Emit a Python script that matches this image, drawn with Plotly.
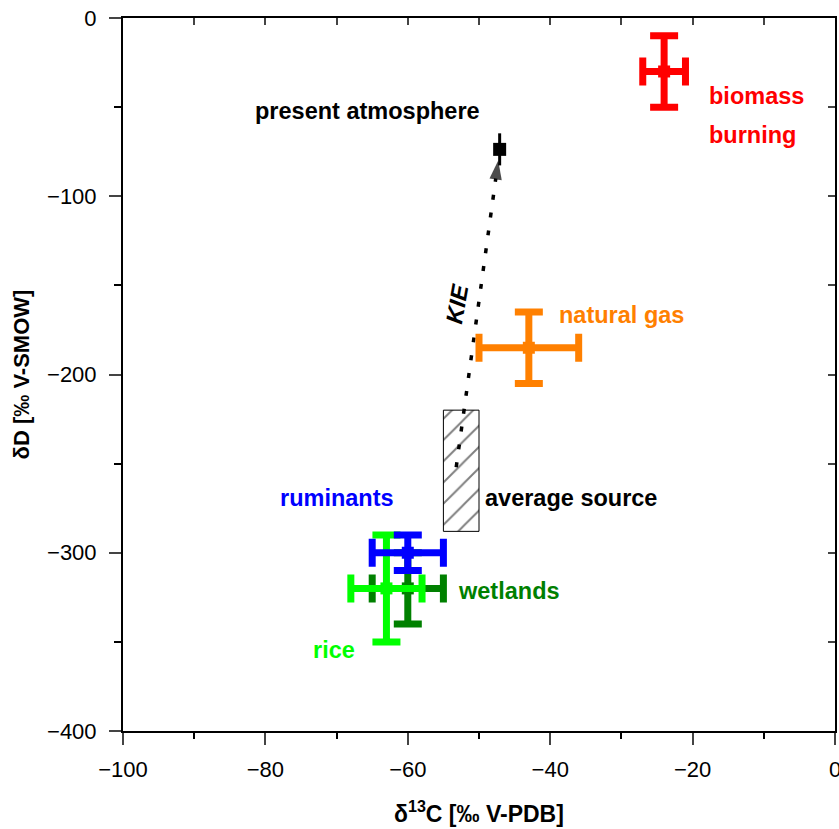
import plotly.graph_objects as go

# ---- data ----
sources = ["natural gas", "biomass burning", "wetlands", "rice", "ruminants"]
d13c = [-43, -24, -60, -63, -60]
dD = [-185, -30, -320, -320, -300]
err_c = [7, 3, 5, 5, 5]
err_d = [20, 20, 20, 30, 10]
colors = ["#FF8000", "#FF0000", "#008000", "#00FF00", "#0000FF"]

atm_c, atm_d, atm_err = -47.1, -73.7, 9
avg_c = [-55, -50]
avg_d = [-220, -288]
kie_c = [-53.2, -47.3]
kie_d = [-252, -80]

labels = ["present atmosphere", "biomass", "burning", "natural gas", "average source",
          "ruminants", "wetlands", "rice"]
lab_x = [-81.7, -18.0, -18.0, -39.1, -49.5, -78.3, -53.2, -73.6]
lab_y = [-52.4, -44.0, -65.5, -166.5, -269.4, -269.4, -321.3, -354.5]
lab_col = ["black", "#FF0000", "#FF0000", "#FF8000", "black", "#0000FF", "#008000", "#00FF00"]

FONT = "Liberation Sans, Arial, sans-serif"
fig = go.Figure()

# hatched average source box
fig.add_trace(go.Scatter(
    x=[avg_c[0], avg_c[1], avg_c[1], avg_c[0], avg_c[0]],
    y=[avg_d[0], avg_d[0], avg_d[1], avg_d[1], avg_d[0]],
    mode="lines", fill="toself", fillcolor="white",
    fillpattern=dict(shape="/", fgcolor="black", bgcolor="white", size=15, solidity=0.13),
    line=dict(color="black", width=1), showlegend=False, hoverinfo="skip"))

# KIE dotted arrow
fig.add_trace(go.Scatter(
    x=kie_c, y=kie_d, mode="lines+markers",
    line=dict(color="black", width=3.5, dash="5px,13px"),
    marker=dict(symbol=["circle", "arrow"], size=[0, 20], color="black",
                angleref="previous", line=dict(width=0)),
    showlegend=False, hoverinfo="skip"))

# sources with error bars
for i in range(len(sources)):
    fig.add_trace(go.Scatter(
        x=[d13c[i]], y=[dD[i]], mode="markers",
        marker=dict(symbol="square", size=12, color=colors[i]),
        error_x=dict(type="constant", value=err_c[i], thickness=7, width=14, color=colors[i]),
        error_y=dict(type="constant", value=err_d[i], thickness=7, width=14, color=colors[i]),
        showlegend=False, name=sources[i]))

# present atmosphere
fig.add_trace(go.Scatter(
    x=[atm_c], y=[atm_d], mode="markers",
    marker=dict(symbol="square", size=13, color="black"),
    error_y=dict(type="constant", value=atm_err, thickness=3, width=0, color="black"),
    showlegend=False))

# invisible trace for the overlay (top/right) axes
fig.add_trace(go.Scatter(x=[-50], y=[-200], xaxis="x2", yaxis="y2", mode="markers",
                         marker=dict(size=1, opacity=0), showlegend=False, hoverinfo="skip"))

for t, x, y, c in zip(labels, lab_x, lab_y, lab_col):
    fig.add_annotation(x=x, y=y, text="<b>%s</b>" % t, showarrow=False, xanchor="left",
                       yanchor="middle", font=dict(family=FONT, size=23.5, color=c))

fig.add_annotation(x=-53.0, y=-160, text="<b><i>KIE</i></b>", showarrow=False, textangle=-80,
                   font=dict(family=FONT, size=23.5, color="black"))

# axis titles
fig.add_annotation(xref="paper", yref="paper", x=0.5, y=-0.1136, text="<b>δ<sup>13</sup>C [‰ V-PDB]</b>",
                   showarrow=False, xanchor="center", yanchor="middle",
                   font=dict(family=FONT, size=23, color="black"))
fig.add_annotation(xref="paper", yref="paper", x=-0.142, y=0.5, text="<b>δD [‰ V-SMOW]</b>",
                   showarrow=False, textangle=-90, xanchor="center", yanchor="middle",
                   font=dict(family=FONT, size=22, color="black"))

fig.update_layout(
    width=839, height=829,
    margin=dict(l=123, r=4, t=18, b=98, autoexpand=False),
    plot_bgcolor="white", paper_bgcolor="white",
    font=dict(family=FONT, size=22, color="black"),
    xaxis=dict(range=[-100, 0], dtick=20, tick0=0, ticks="outside", ticklen=12, tickwidth=2,
               showline=True, linewidth=2, linecolor="black", showgrid=False, zeroline=False,
               minor=dict(dtick=10, ticks="outside", ticklen=6, tickwidth=2, tickcolor="black"),
               tickfont=dict(size=22), ticklabelstandoff=6, ticklabeloverflow="allow",
               automargin=False),
    yaxis=dict(range=[-400, 0], dtick=100, tick0=0, ticks="outside", ticklen=12, tickwidth=2,
               showline=True, linewidth=2, linecolor="black", showgrid=False, zeroline=False,
               minor=dict(dtick=50, ticks="outside", ticklen=7, tickwidth=2, tickcolor="black"),
               tickfont=dict(size=22), ticklabelstandoff=8, ticklabeloverflow="allow",
               automargin=False),
    xaxis2=dict(range=[-100, 0], overlaying="x", side="top", dtick=10, ticks="inside", ticklen=7,
                tickwidth=2, showline=True, linewidth=2, linecolor="black", showticklabels=False,
                showgrid=False, zeroline=False, automargin=False),
    yaxis2=dict(range=[-400, 0], overlaying="y", side="right", dtick=50, ticks="inside", ticklen=7,
                tickwidth=2, showline=True, linewidth=2, linecolor="black", showticklabels=False,
                showgrid=False, zeroline=False, automargin=False),
)

fig.write_html("out.html")
